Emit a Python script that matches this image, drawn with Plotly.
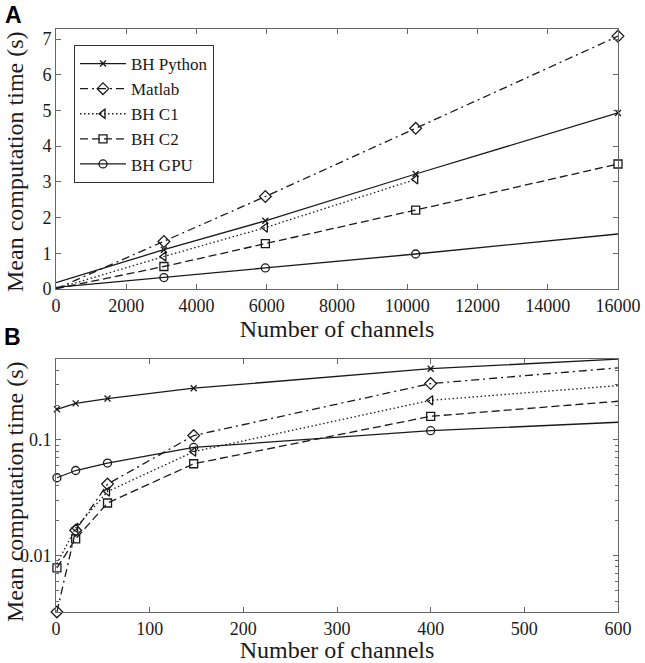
import plotly.graph_objects as go

# Panel A: mean computation time (s) for large channel counts
a_channels = [1, 3072, 5960, 10240, 16000]
a_python = [0.18, 1.10, 1.91, 3.22, 4.93]
a_matlab = [0.003, 1.33, 2.59, 4.50, 7.08]
a_c1 = [0.008, 0.91, 1.72, 3.07, None]
a_c2 = [0.008, 0.63, 1.27, 2.21, 3.50]
a_gpu = [0.047, 0.32, 0.59, 0.98, 1.54]

# Panel B: mean computation time (s) for small channel counts, log scale
b_channels = [1, 21, 55, 147, 400, 600]
b_python = [0.184, 0.207, 0.228, 0.28, 0.413, 0.50]
b_matlab = [0.00324, 0.0165, 0.0414, 0.109, 0.307, 0.42]
b_c1 = [0.0085, 0.0173, 0.0357, 0.079, 0.22, 0.295]
b_c2 = [0.0078, 0.0139, 0.0284, 0.0621, 0.160, 0.216]
b_gpu = [0.047, 0.0543, 0.063, 0.086, 0.120, 0.142]

names = ["BH Python", "Matlab", "BH C1", "BH C2", "BH GPU"]

a_ticks = list(range(0, 16001, 2000))

# which points carry a marker (1) and which are plain line vertices (0)
a_marked = [[0, 1, 1, 1, 1], [0, 1, 1, 1, 1], [0, 1, 1, 1, 0], [0, 1, 1, 1, 1], [0, 1, 1, 1, 0]]
b_marked = [[1, 1, 1, 1, 1, 0], [1, 1, 1, 1, 1, 0], [0, 1, 1, 1, 1, 0], [1, 1, 1, 1, 1, 0], [1, 1, 1, 1, 1, 0]]

styles = [
    dict(dash="solid", symbol="x-thin-open", size=6),
    dict(dash="8px,4px,2px,4px", symbol="diamond-open", size=9),
    dict(dash="1.5px,2.5px", symbol="triangle-left-open", size=8),
    dict(dash="8px,4px", symbol="square-open", size=8),
    dict(dash="solid", symbol="circle-open", size=8),
]

W, H = 645, 663
L, R, T, B = 56, 27, 29, 51
pw, ph = W - L - R, H - T - B


def px_x(x):
    return (x - L) / pw


def px_y(y):
    return (H - B - y) / ph


serif = "Liberation Serif"
ink = "#1a1a1a"
frame = "#666666"

fig = go.Figure()

panels = [
    ("x", "y", a_channels, [a_python, a_matlab, a_c1, a_c2, a_gpu], a_marked),
    ("x2", "y2", b_channels, [b_python, b_matlab, b_c1, b_c2, b_gpu], b_marked),
]

for xa, ya, xs, series, marked in panels:
    for name, ys, mask, st in zip(names, series, marked, styles):
        fig.add_trace(go.Scatter(
            x=xs, y=ys, xaxis=xa, yaxis=ya, mode="lines",
            line=dict(color=ink, width=1.3, dash=st["dash"]),
            showlegend=False, hoverinfo="skip",
        ))
        mx = [x for x, m in zip(xs, mask) if m]
        my = [y for y, m in zip(ys, mask) if m]
        fig.add_trace(go.Scatter(
            x=mx, y=my, xaxis=xa, yaxis=ya, mode="markers", name=name,
            marker=dict(symbol=st["symbol"], size=st["size"], color=ink,
                        line=dict(width=1.3, color=ink)),
            cliponaxis=False, showlegend=False,
        ))

# legend entries (line + marker sample)
for i, (name, st) in enumerate(zip(names, styles)):
    fig.add_trace(go.Scatter(
        x=[None], y=[None], mode="lines+markers", name=name, legendgroup=str(i),
        line=dict(color=ink, width=1.3, dash=st["dash"]),
        marker=dict(symbol=st["symbol"], size=st["size"], color=ink,
                    line=dict(width=1.3, color=ink)),
    ))

axis_common = dict(
    showline=True, linecolor=frame, linewidth=1, mirror="allticks",
    ticks="inside", ticklen=5, tickcolor=frame, showgrid=False, zeroline=False,
    automargin=False,
    tickfont=dict(family=serif, size=18, color=ink),
    title_font=dict(family=serif, size=24, color=ink),
)

ytitle_font = dict(family=serif, size=24, color=ink)

fig.update_layout(
    width=W, height=H,
    margin=dict(l=L, r=R, t=T, b=B),
    paper_bgcolor="white", plot_bgcolor="white",
    font=dict(family=serif, color=ink),
    xaxis=dict(axis_common, domain=[0, 1], anchor="y", range=[0, 16000],
               tickvals=a_ticks, ticktext=[str(t) for t in a_ticks],
               title=dict(text="Number of channels", standoff=4)),
    yaxis=dict(axis_common, domain=[px_y(289), 1], anchor="x", range=[0, 7.28],
               dtick=1),
    xaxis2=dict(axis_common, domain=[0, 1], anchor="y2", range=[0, 600],
                dtick=100, title=dict(text="Number of channels", standoff=12)),
    yaxis2=dict(axis_common, domain=[0, px_y(359)], anchor="x2", type="log",
                range=[-2.49, -0.30], tickvals=[0.01, 0.1], ticktext=["0.01", "0.1"],
                minor=dict(ticks="inside", ticklen=3, tickcolor=frame,
                           tickvals=[k * 10 ** e for e in (-3, -2, -1) for k in range(2, 10)])),
    legend=dict(
        x=px_x(74), y=px_y(45), xanchor="left", yanchor="top",
        bgcolor="white", bordercolor="#333333", borderwidth=1,
        font=dict(family=serif, size=17, color=ink),
        itemwidth=46, tracegroupgap=0,
    ),
    annotations=[
        dict(text="<b>A</b>", x=px_x(3), y=px_y(0), xref="paper", yref="paper",
             xanchor="left", yanchor="top", showarrow=False,
             font=dict(family="Liberation Sans", size=23, color="black")),
        dict(text="<b>B</b>", x=px_x(2), y=px_y(322), xref="paper", yref="paper",
             xanchor="left", yanchor="top", showarrow=False,
             font=dict(family="Liberation Sans", size=23, color="black")),
        dict(text="Mean computation time (s)", textangle=-90, x=px_x(15), y=px_y(162),
             xref="paper", yref="paper", xanchor="center", yanchor="middle",
             showarrow=False, font=ytitle_font),
        dict(text="Mean computation time (s)", textangle=-90, x=px_x(15), y=px_y(492),
             xref="paper", yref="paper", xanchor="center", yanchor="middle",
             showarrow=False, font=ytitle_font),
    ],
)

fig.write_html("out.html", config={"displayModeBar": False},
               post_script="document.body.style.margin='0';")
